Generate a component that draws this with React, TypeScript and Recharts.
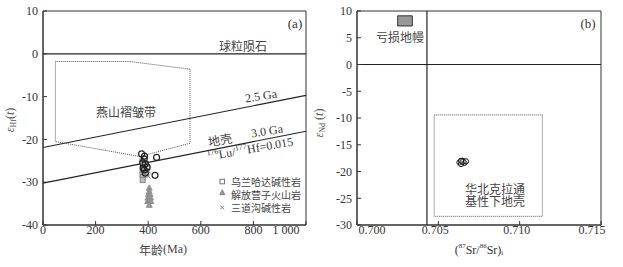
import React from "react";
import { ScatterChart, Scatter, XAxis, YAxis, ReferenceLine, ReferenceArea } from "recharts";

// (a) εHf(t) vs age
const ageTicks = [0, 200, 400, 600, 800, 1000];
const hfTicks = [-40, -30, -20, -10, 0, 10];
const line25 = [[0, -21.9], [1000, -9.7]];
const line30 = [[0, -30.2], [1000, -18.1]];
const yanshanPoly = [[47, -1.8], [330, -1.8], [559, -3.6], [559, -20.9], [368, -24.0], [47, -20.5]];
const hfCircles = [
  [375, -23.4], [386, -23.9], [432, -24.2], [385, -24.6], [379, -25.5], [389, -25.7],
  [396, -26.5], [381, -26.7], [385, -27.1], [389, -27.9], [426, -28.4],
];
const hfSquares = [[378, -25.2], [380, -25.8], [382, -26.4], [379, -27.0], [381, -27.6], [378, -28.2], [380, -28.8], [379, -29.5]];
const hfCrosses = [[395, -25.5], [400, -26.2], [398, -27.0], [402, -27.5], [396, -28.2], [400, -28.6]];
const hfTriangles = [
  [404, -31.3], [404, -32.1], [401, -32.8], [407, -32.8], [399, -33.6], [404, -33.6],
  [409, -33.6], [398, -34.4], [404, -34.4], [410, -34.4], [404, -35.3],
];
const legendNames = ["乌兰哈达碱性岩", "解放营子火山岩", "三道沟碱性岩"];

// (b) εNd(t) vs (87Sr/86Sr)i
const srTicks = [0.7, 0.705, 0.71, 0.715];
const ndTicks = [-30, -25, -20, -15, -10, -5, 0, 5, 10];
const srDivide = 0.7043;
const mantleBox = { x1: 0.7025, x2: 0.7034, y1: 7.2, y2: 9.1 };
const crustBox = { x1: 0.70475, x2: 0.7114, y1: -28.4, y2: -9.4 };
const srNdPoints = [[0.7063, -18.3], [0.7065, -18.0], [0.7066, -18.4], [0.7064, -18.6], [0.7065, -18.2], [0.7067, -18.1], [0.7064, -18.0]];

const toXY = (arr: number[][]) => arr.map(([x, y]) => ({ x, y }));

const serif = "'Liberation Serif', 'DejaVu Serif', serif";
const cjk = "'Noto Sans CJK SC', sans-serif";
const ink = "#333";
const cjkInk = "#444";
const grey = "#8a8a8a";

const tickStyle = { fontSize: 12, fill: ink, fontFamily: serif };

const circleShape = (p: any) => <circle cx={p.cx} cy={p.cy} r={3} fill="none" stroke="#222" strokeWidth={1.2} />;
const squareShape = (p: any) => <rect x={p.cx - 2.5} y={p.cy - 2.5} width={5} height={5} fill="#bbb" stroke={grey} strokeWidth={1} />;
const crossShape = (p: any) => (
  <g stroke={grey} strokeWidth={1}>
    <line x1={p.cx - 2} y1={p.cy - 2} x2={p.cx + 2} y2={p.cy + 2} />
    <line x1={p.cx - 2} y1={p.cy + 2} x2={p.cx + 2} y2={p.cy - 2} />
  </g>
);
const triShape = (p: any) => (
  <polygon points={`${p.cx},${p.cy - 3} ${p.cx - 3},${p.cy + 2.5} ${p.cx + 3},${p.cy + 2.5}`} fill="#999" stroke={grey} strokeWidth={0.8} />
);
const smallCircle = (p: any) => <circle cx={p.cx} cy={p.cy} r={2.6} fill="#fff" fillOpacity={0.3} stroke="#111" strokeWidth={1} />;

const AgeTick = (p: any) => {
  const v = p.payload.value;
  const dx = v === 1000 ? -9 : 0;
  return (
    <text x={p.x + dx} y={p.y + 11} textAnchor="middle" {...tickStyle}>
      {v === 1000 ? "1 000" : v}
    </text>
  );
};

const SrTick = (p: any) => {
  const v = p.payload.value;
  const dx = v === 0.7 ? 15 : v === 0.715 ? -9 : -3;
  return (
    <text x={p.x + dx} y={p.y + 11} textAnchor="middle" {...tickStyle}>
      {v.toFixed(3)}
    </text>
  );
};

function ChartA() {
  return (
    <ScatterChart width={311} height={267} margin={{ top: 11, right: 5, bottom: 12, left: 8 }}>
      <XAxis type="number" dataKey="x" domain={[0, 1000]} ticks={ageTicks} tick={<AgeTick />} tickSize={-4} stroke={ink} height={30} allowDataOverflow />
      <YAxis type="number" dataKey="y" domain={[-40, 10]} ticks={hfTicks} tick={tickStyle} tickSize={-4} tickMargin={9} stroke={ink} width={35} allowDataOverflow />
      <ReferenceArea x1={0} x2={1000} y1={-40} y2={10} fill="none" stroke={ink} strokeWidth={1} />
      <ReferenceLine y={0} stroke="#222" strokeWidth={1.2} />
      <ReferenceLine segment={[{ x: line25[0][0], y: line25[0][1] }, { x: line25[1][0], y: line25[1][1] }]} stroke="#222" strokeWidth={1.2} />
      <ReferenceLine segment={[{ x: line30[0][0], y: line30[0][1] }, { x: line30[1][0], y: line30[1][1] }]} stroke="#222" strokeWidth={1.2} />
      {yanshanPoly.map((pt, i) => {
        const nx = yanshanPoly[(i + 1) % yanshanPoly.length];
        return (
          <ReferenceLine key={i} segment={[{ x: pt[0], y: pt[1] }, { x: nx[0], y: nx[1] }]} stroke="#555" strokeWidth={1} strokeDasharray="1 1" />
        );
      })}
      <Scatter data={toXY(hfTriangles)} shape={triShape} isAnimationActive={false} />
      <Scatter data={toXY(hfSquares)} shape={squareShape} isAnimationActive={false} />
      <Scatter data={toXY(hfCrosses)} shape={crossShape} isAnimationActive={false} />
      <Scatter data={toXY(hfCircles)} shape={circleShape} isAnimationActive={false} />
    </ScatterChart>
  );
}

function ChartB() {
  return (
    <ScatterChart width={312} height={267} margin={{ top: 11, right: 22, bottom: 12, left: 10 }}>
      <XAxis type="number" dataKey="x" domain={[0.7, 0.715]} ticks={srTicks} tick={<SrTick />} tickSize={-4} stroke={ink} height={30} allowDataOverflow />
      <YAxis type="number" dataKey="y" domain={[-30, 10]} ticks={ndTicks} tick={tickStyle} tickSize={-4} tickMargin={9} stroke={ink} width={36} allowDataOverflow />
      <ReferenceArea x1={0.7} x2={0.715} y1={-30} y2={10} fill="none" stroke={ink} strokeWidth={1} />
      <ReferenceLine y={0} stroke="#222" strokeWidth={1.2} />
      <ReferenceLine x={srDivide} stroke="#222" strokeWidth={1.2} />
      <ReferenceArea {...mantleBox} fill="#999" fillOpacity={1} stroke="#333" strokeWidth={1} />
      <ReferenceArea {...crustBox} fill="none" stroke="#777" strokeWidth={1.2} strokeDasharray="1 1" />
      <Scatter data={toXY(srNdPoints)} shape={smallCircle} isAnimationActive={false} />
    </ScatterChart>
  );
}

const Rot = ({ x, y, a, children, size = 12, family = serif, fill = ink }: any) => (
  <text x={x} y={y} transform={`rotate(${a} ${x} ${y})`} textAnchor="middle" dominantBaseline="central" fontSize={size} fontFamily={family} fill={fill}>
    {children}
  </text>
);

const legendY = [181.5, 194.5, 207.5];

function Annotations() {
  return (
    <svg width={623} height={267} style={{ position: "absolute", left: 0, top: 0, pointerEvents: "none" }}>
      {/* panel a */}
      <Rot x={295} y={23} a={0} size={13}>(a)</Rot>
      <Rot x={243} y={45} a={0} family={cjk} fill={cjkInk}>球粒陨石</Rot>
      <Rot x={126} y={111} a={0} family={cjk} fill={cjkInk}>燕山褶皱带</Rot>
      <Rot x={261} y={96} a={-9}>2.5 Ga</Rot>
      <Rot x={220} y={139} a={-10} family={cjk} fill={cjkInk}>地壳</Rot>
      <Rot x={267} y={131} a={-9}>3.0 Ga</Rot>
      <text x={250} y={149} transform="rotate(-10 250 149)" textAnchor="middle" dominantBaseline="central" fontSize={12} fontFamily={serif} fill={ink}>
        <tspan fontSize={8} dy={-4}>176</tspan>
        <tspan dy={4}>Lu/</tspan>
        <tspan fontSize={8} dy={-4}>177</tspan>
        <tspan dy={4}>Hf=0.015</tspan>
      </text>
      <g fontSize={10} fontFamily={cjk} fill={cjkInk}>
        <rect x={220} y={179.3} width={4.5} height={4.5} fill="none" stroke="#777" />
        <polygon points="222.3,189.7 219.8,194.7 224.8,194.7" fill="#999" stroke="#777" strokeWidth={0.8} />
        <g stroke="#777" strokeWidth={1}>
          <line x1={220.5} y1={205.7} x2={224} y2={209.2} />
          <line x1={220.5} y1={209.2} x2={224} y2={205.7} />
        </g>
        {legendNames.map((n, i) => (
          <text key={n} x={231} y={legendY[i]} dominantBaseline="central">{n}</text>
        ))}
      </g>
      <Rot x={163} y={249} a={0} family={cjk} fill={cjkInk}>
        年龄<tspan fontFamily={serif}>(Ma)</tspan>
      </Rot>
      <text x={10} y={120} transform="rotate(-90 10 120)" textAnchor="middle" dominantBaseline="central" fontSize={12} fontFamily={serif} fill="#555">
        <tspan fontStyle="italic">ε</tspan>
        <tspan fontSize={8} dy={3}>Hf</tspan>
        <tspan dy={-3}>(</tspan>
        <tspan fontStyle="italic">t</tspan>
        <tspan>)</tspan>
      </text>
      {/* panel b */}
      <Rot x={588} y={23} a={0} size={13}>(b)</Rot>
      <Rot x={400} y={36.5} a={0} family={cjk} fill={cjkInk}>亏损地幔</Rot>
      <Rot x={495} y={188} a={0} family={cjk} fill={cjkInk}>华北克拉通</Rot>
      <Rot x={495} y={200.5} a={0} family={cjk} fill={cjkInk}>基性下地壳</Rot>
      <text x={479} y={250} textAnchor="middle" dominantBaseline="central" fontSize={12} fontFamily={serif} fill={ink}>
        <tspan>(</tspan>
        <tspan fontSize={7} dy={-4}>87</tspan>
        <tspan dy={4}>Sr/</tspan>
        <tspan fontSize={7} dy={-4}>86</tspan>
        <tspan dy={4}>Sr)</tspan>
        <tspan fontSize={7} dy={3}>i</tspan>
      </text>
      <text x={319} y={123} transform="rotate(-90 319 123)" textAnchor="middle" dominantBaseline="central" fontSize={12} fontFamily={serif} fill="#555">
        <tspan fontStyle="italic">ε</tspan>
        <tspan fontSize={8} dy={3}>Nd</tspan>
        <tspan dy={-3}> (</tspan>
        <tspan fontStyle="italic">t</tspan>
        <tspan>)</tspan>
      </text>
    </svg>
  );
}

export default function App() {
  return (
    <div style={{ position: "absolute", left: 0, top: 0, width: 623, height: 267, background: "#fff" }}>
      <div style={{ position: "absolute", left: 0, top: 0 }}>
        <ChartA />
      </div>
      <div style={{ position: "absolute", left: 311, top: 0 }}>
        <ChartB />
      </div>
      <Annotations />
    </div>
  );
}
